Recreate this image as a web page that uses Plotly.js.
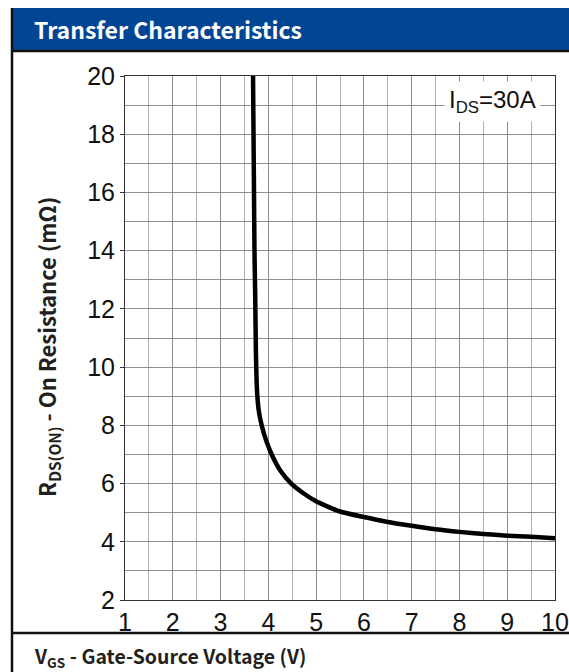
<!DOCTYPE html>
<html>
<head>
<meta charset="utf-8">
<script src="https://cdn.plot.ly/plotly-3.0.1.min.js"></script>
<style>html,body{margin:0;padding:0;background:#fff;}#chart{width:569px;height:672px;}</style>
</head>
<body>
<div id="chart"></div>
<script>
// Data
const vgs = [3.68, 3.69, 3.70, 3.71, 3.725, 3.74, 3.755, 3.77, 3.80, 3.86, 3.96, 4.07, 4.25, 4.48, 4.75, 5.0, 5.5, 6.0, 6.5, 7.0, 7.5, 8.0, 8.5, 9.0, 9.5, 10.0];
const rdson = [20, 18, 16, 14, 12.5, 10.5, 9.5, 9.0, 8.5, 8.0, 7.45, 7.0, 6.45, 6.0, 5.65, 5.39, 5.04, 4.85, 4.68, 4.55, 4.43, 4.34, 4.27, 4.21, 4.17, 4.12];
const xTickVals = [1, 2, 3, 4, 5, 6, 7, 8, 9, 10];
const yTickVals = [2, 4, 6, 8, 10, 12, 14, 16, 18, 20];
const chartTitle = 'Transfer Characteristics';
const xLabel = 'V<sub>GS</sub> - Gate-Source Voltage (V)';
const yLabel = 'R<sub>DS(ON)</sub> - On Resistance (mΩ)';
const condLabel = 'I<sub>DS</sub>=30A';

const W = 569, H = 672;
const M = {l: 125, r: 14, t: 76, b: 72};
const pw = W - M.l - M.r, ph = H - M.t - M.b;
const fx = px => (px - M.l) / pw;
const fy = py => 1 - (py - M.t) / ph;

const tickFont = {family: '"Liberation Sans Narrow", "Liberation Sans", Arial, sans-serif', size: 25, color: '#111'};

const trace = {
  x: vgs, y: rdson, type: 'scatter', mode: 'lines',
  line: {color: '#000', width: 4.5, shape: 'spline', smoothing: 0.6},
  hoverinfo: 'skip'
};

const layout = {
  width: W, height: H, margin: M,
  paper_bgcolor: '#fff', plot_bgcolor: '#fff',
  showlegend: false,
  font: {family: '"Liberation Sans", Arial, sans-serif', color: '#000'},
  xaxis: {
    range: [1, 10], tickvals: xTickVals, ticktext: xTickVals.map(String),
    showgrid: true, gridcolor: '#8f8f8f', gridwidth: 1,
    minor: {dtick: 0.5, showgrid: true, gridcolor: '#b0b0b0', gridwidth: 1},
    showline: true, linecolor: '#333', linewidth: 1, mirror: true,
    ticks: '', ticklabelstandoff: 0,
    tickfont: tickFont, zeroline: false, fixedrange: true
  },
  yaxis: {
    range: [2, 20], tickvals: yTickVals, ticktext: yTickVals.map(String),
    showgrid: true, gridcolor: '#8f8f8f', gridwidth: 1,
    minor: {dtick: 1, showgrid: true, gridcolor: '#8f8f8f', gridwidth: 1},
    showline: true, linecolor: '#333', linewidth: 1, mirror: true,
    ticks: 'outside', ticklen: 4, tickcolor: '#333',
    tickfont: tickFont, zeroline: false, fixedrange: true
  },
  shapes: [
    {type: 'rect', xref: 'paper', yref: 'paper', x0: fx(12), x1: fx(569), y0: fy(51), y1: fy(8),
     fillcolor: '#034595', line: {width: 0}, layer: 'below'},
    {type: 'line', xref: 'paper', yref: 'paper', x0: fx(12), x1: fx(569), y0: fy(51), y1: fy(51),
     line: {color: '#111', width: 2.5}},
    {type: 'line', xref: 'paper', yref: 'paper', x0: fx(12), x1: fx(569), y0: fy(633), y1: fy(633),
     line: {color: '#111', width: 2.5}},
    {type: 'line', xref: 'paper', yref: 'paper', x0: fx(12), x1: fx(12), y0: fy(8), y1: fy(672),
     line: {color: '#111', width: 2.5}}
  ],
  annotations: [
    {text: chartTitle, xref: 'paper', yref: 'paper', x: fx(32), y: fy(29), xanchor: 'left', yanchor: 'middle',
     showarrow: false, font: {family: '"Noto Sans CJK SC", "Noto Sans", sans-serif', size: 23, color: '#fff', weight: 'bold'}},
    {text: xLabel, xref: 'paper', yref: 'paper', x: fx(32), y: fy(656), xanchor: 'left', yanchor: 'middle',
     showarrow: false, font: {family: '"Noto Sans CJK SC", "Noto Sans", sans-serif', size: 19.5, color: '#231f20', weight: 'bold'}},
    {text: yLabel, xref: 'paper', yref: 'paper', x: fx(47), y: fy(347), xanchor: 'center', yanchor: 'middle', textangle: -90,
     showarrow: false, font: {family: '"Noto Sans CJK SC", "Noto Sans", sans-serif', size: 22, color: '#231f20', weight: 'bold'}},
    {text: condLabel, xref: 'paper', yref: 'paper', x: fx(492), y: fy(101), xanchor: 'center', yanchor: 'middle',
     showarrow: false, bgcolor: '#fff', borderpad: 4,
     font: {family: '"Liberation Sans Narrow", "Liberation Sans", Arial, sans-serif', size: 24, color: '#111'}}
  ]
};

Plotly.newPlot('chart', [trace], layout, {displayModeBar: false, staticPlot: true});
</script>
</body>
</html>
